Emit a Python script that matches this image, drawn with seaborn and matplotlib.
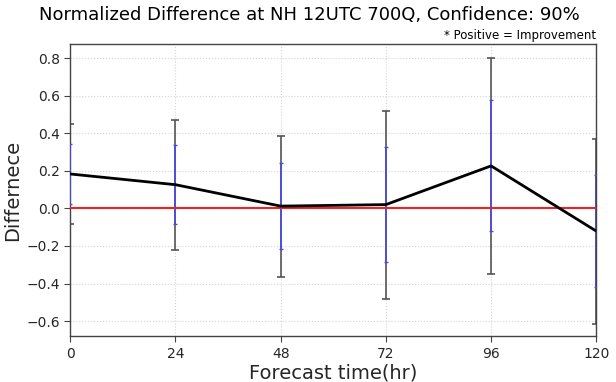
import matplotlib
matplotlib.use("Agg")
import matplotlib.pyplot as plt
import seaborn as sns
import pandas as pd
import numpy as np

hours = [0, 24, 48, 72, 96, 120]
diff = [0.183, 0.126, 0.012, 0.020, 0.226, -0.121]
err_outer = [0.264, 0.345, 0.375, 0.50, 0.575, 0.492]
err_inner = [0.160, 0.210, 0.228, 0.306, 0.349, 0.298]
yticks = [-0.6, -0.4, -0.2, 0.0, 0.2, 0.4, 0.6, 0.8]
xticks = [0, 24, 48, 72, 96, 120]

sns.set_style("ticks")
plt.rcParams['font.family'] = ['DejaVu Sans']

fig = plt.figure(figsize=(6.16, 3.82), dpi=100)
ax = fig.add_axes([0.114, 0.120, 0.854, 0.765])

df = pd.DataFrame({"hour": hours, "diff": diff})

ax.errorbar(hours, diff, yerr=err_outer, fmt='none', ecolor='#555555',
            elinewidth=1.2, capsize=3, capthick=1.2, zorder=2, clip_on=True)
ax.errorbar(hours, diff, yerr=err_inner, fmt='none', ecolor='#4a4ae6',
            elinewidth=1.2, capsize=1.5, capthick=1.0, zorder=3, clip_on=True)
ax.axhline(0, color='#ee2222', lw=1.5, zorder=4)
sns.lineplot(data=df, x="hour", y="diff", color='black', lw=2, ax=ax, zorder=5)

ax.set_xlim(0, 120)
ax.set_ylim(-0.68, 0.875)
ax.set_xticks(xticks)
ax.set_yticks(yticks)
ax.set_yticklabels([f"{v:.1f}".replace("-", "\u2212") for v in yticks])
ax.tick_params(labelsize=10, length=4, color='#444444')
ax.grid(True, linestyle=':', color='#d4d4d4', lw=0.8)
for s in ax.spines.values():
    s.set_color('#444444')
    s.set_linewidth(1.0)

ax.set_xlabel("Forecast time(hr)", fontsize=14, labelpad=2)
ax.set_ylabel("Differnece", fontsize=14, labelpad=3)
fig.text(0.502, 0.96, "Normalized Difference at NH 12UTC 700Q, Confidence: 90%",
         ha='center', va='center', fontsize=13, color='black')
fig.text(0.968, 0.908, "* Positive = Improvement", ha='right', va='center', fontsize=8.5, color='black')

fig.savefig("out.png", dpi=100)
